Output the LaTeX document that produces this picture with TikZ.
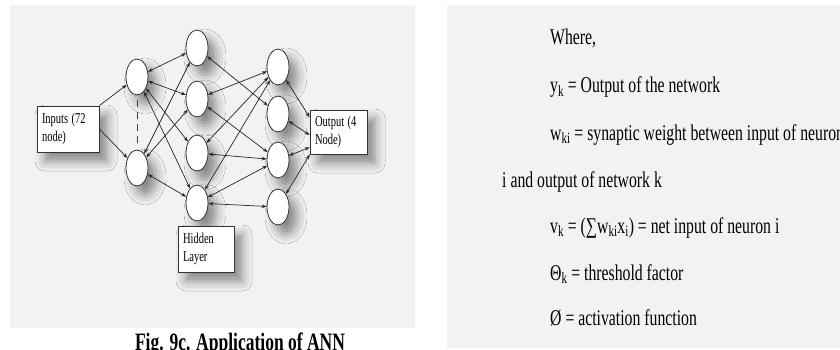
\documentclass[tikz,border=0pt]{standalone}
\usepackage{fontspec}
\setmainfont{Liberation Serif}
\usepackage{graphicx}
\usetikzlibrary{shapes.geometric,arrows.meta,shadows.blur}
% the scanned figure is squeezed sideways
\newcommand{\narrow}[1]{\scalebox{0.7}[1]{#1}}

\begin{document}
\begin{tikzpicture}[x=1pt,y=-1pt,>={Stealth[length=5pt,width=3.6pt]},
  soft/.style={blur shadow={shadow xshift=8pt,shadow yshift=-9pt,shadow blur radius=10pt,shadow opacity=45}},
  neuron/.style={ellipse,draw=black!80,fill=white,line width=0.8pt,minimum width=22pt,minimum height=36pt,inner sep=0pt,soft},
  lbox/.style={draw=black!80,fill=white,line width=0.8pt,align=left,inner sep=5pt,minimum height=46pt,font=\fontsize{15}{18}\selectfont,soft},
  link/.style={<->,black!85,line width=0.7pt},
  eqn/.style={anchor=base west,inner sep=0pt,font=\fontsize{22.5}{24}\selectfont}]
\useasboundingbox (0,0) rectangle (840,350);
\clip (0,0) rectangle (840,350);
\fill[black!5] (10,5) rectangle (415,328);
\fill[black!5] (447,5) rectangle (845,348);

\node[neuron] (a1) at (137,77) {};
\node[neuron] (a2) at (137,168) {};
\node[neuron] (b1) at (197,48) {};
\node[neuron] (b2) at (197,99) {};
\node[neuron] (b3) at (197,153) {};
\node[neuron] (b4) at (197,203) {};
\node[neuron] (c1) at (278,67) {};
\node[neuron] (c2) at (278,114) {};
\node[neuron] (c3) at (278,160) {};
\node[neuron] (c4) at (278,207) {};
\node[lbox,text width=52pt] (inputs) at (68,129) {\narrow{Inputs (72}\\\narrow{node)}};
\node[lbox,text width=47pt,minimum height=44pt] (output) at (338.5,132) {\narrow{Output (4}\\\narrow{Node)}};
\node[lbox,text width=46pt] (hidden) at (206,249) {\narrow{Hidden}\\\narrow{Layer}};

\draw[dashed,dash pattern=on 7pt off 5pt,black!75,line width=0.7pt,shorten <=5pt,shorten >=5pt] (a1) -- (a2);
\draw[->,black!85,line width=0.7pt] (inputs.north east) -- (a1);
\draw[->,black!85,line width=0.7pt] (inputs.east) -- (a2);
\draw[link] (a1) -- (b1);
\draw[link] (a1) -- (b2);
\draw[link] (a1) -- (b3);
\draw[link] (a1) -- (b4);
\draw[link] (a2) -- (b1);
\draw[link] (a2) -- (b2);
\draw[link] (a2) -- (b4);
\draw[link] (b1) -- (c2);
\draw[link] (b2) -- (c1);
\draw[link] (b2) -- (c3);
\draw[link] (b3) -- (c1);
\draw[link] (b3) -- (c3);
\draw[link] (b4) -- (c1);
\draw[link] (b4) -- (c3);
\draw[link] (b4) -- (c4);
\draw[link] (c1) -- (output.153);
\draw[link] (c2) -- (output.186);
\draw[link] (c3) -- (output.208);
\draw[link] (c4) -- (output.218);

\node[anchor=base,inner sep=0pt,font=\bfseries\fontsize{25}{26}\selectfont] (caption) at (240,350) {\narrow{Fig. 9c. Application of ANN}};

\node[eqn] (where) at (550,45) {\narrow{Where,}};
\node[eqn] (yk) at (550,93) {\narrow{y\textsubscript{k} = Output of the network}};
\node[eqn] (wki) at (550,140) {\narrow{w\textsubscript{ki} = synaptic weight between input of neuron}};
\node[eqn] (wrap) at (502,187) {\narrow{i and output of network k}};
\node[eqn] (vk) at (550,233) {\narrow{v\textsubscript{k} = (∑w\textsubscript{ki}x\textsubscript{i}) = net input of neuron i}};
\node[eqn] (theta) at (550,280) {\narrow{Θ\textsubscript{k} = threshold factor}};
\node[eqn] (phi) at (550,325) {\narrow{Ø = activation function}};
\end{tikzpicture}
\end{document}
